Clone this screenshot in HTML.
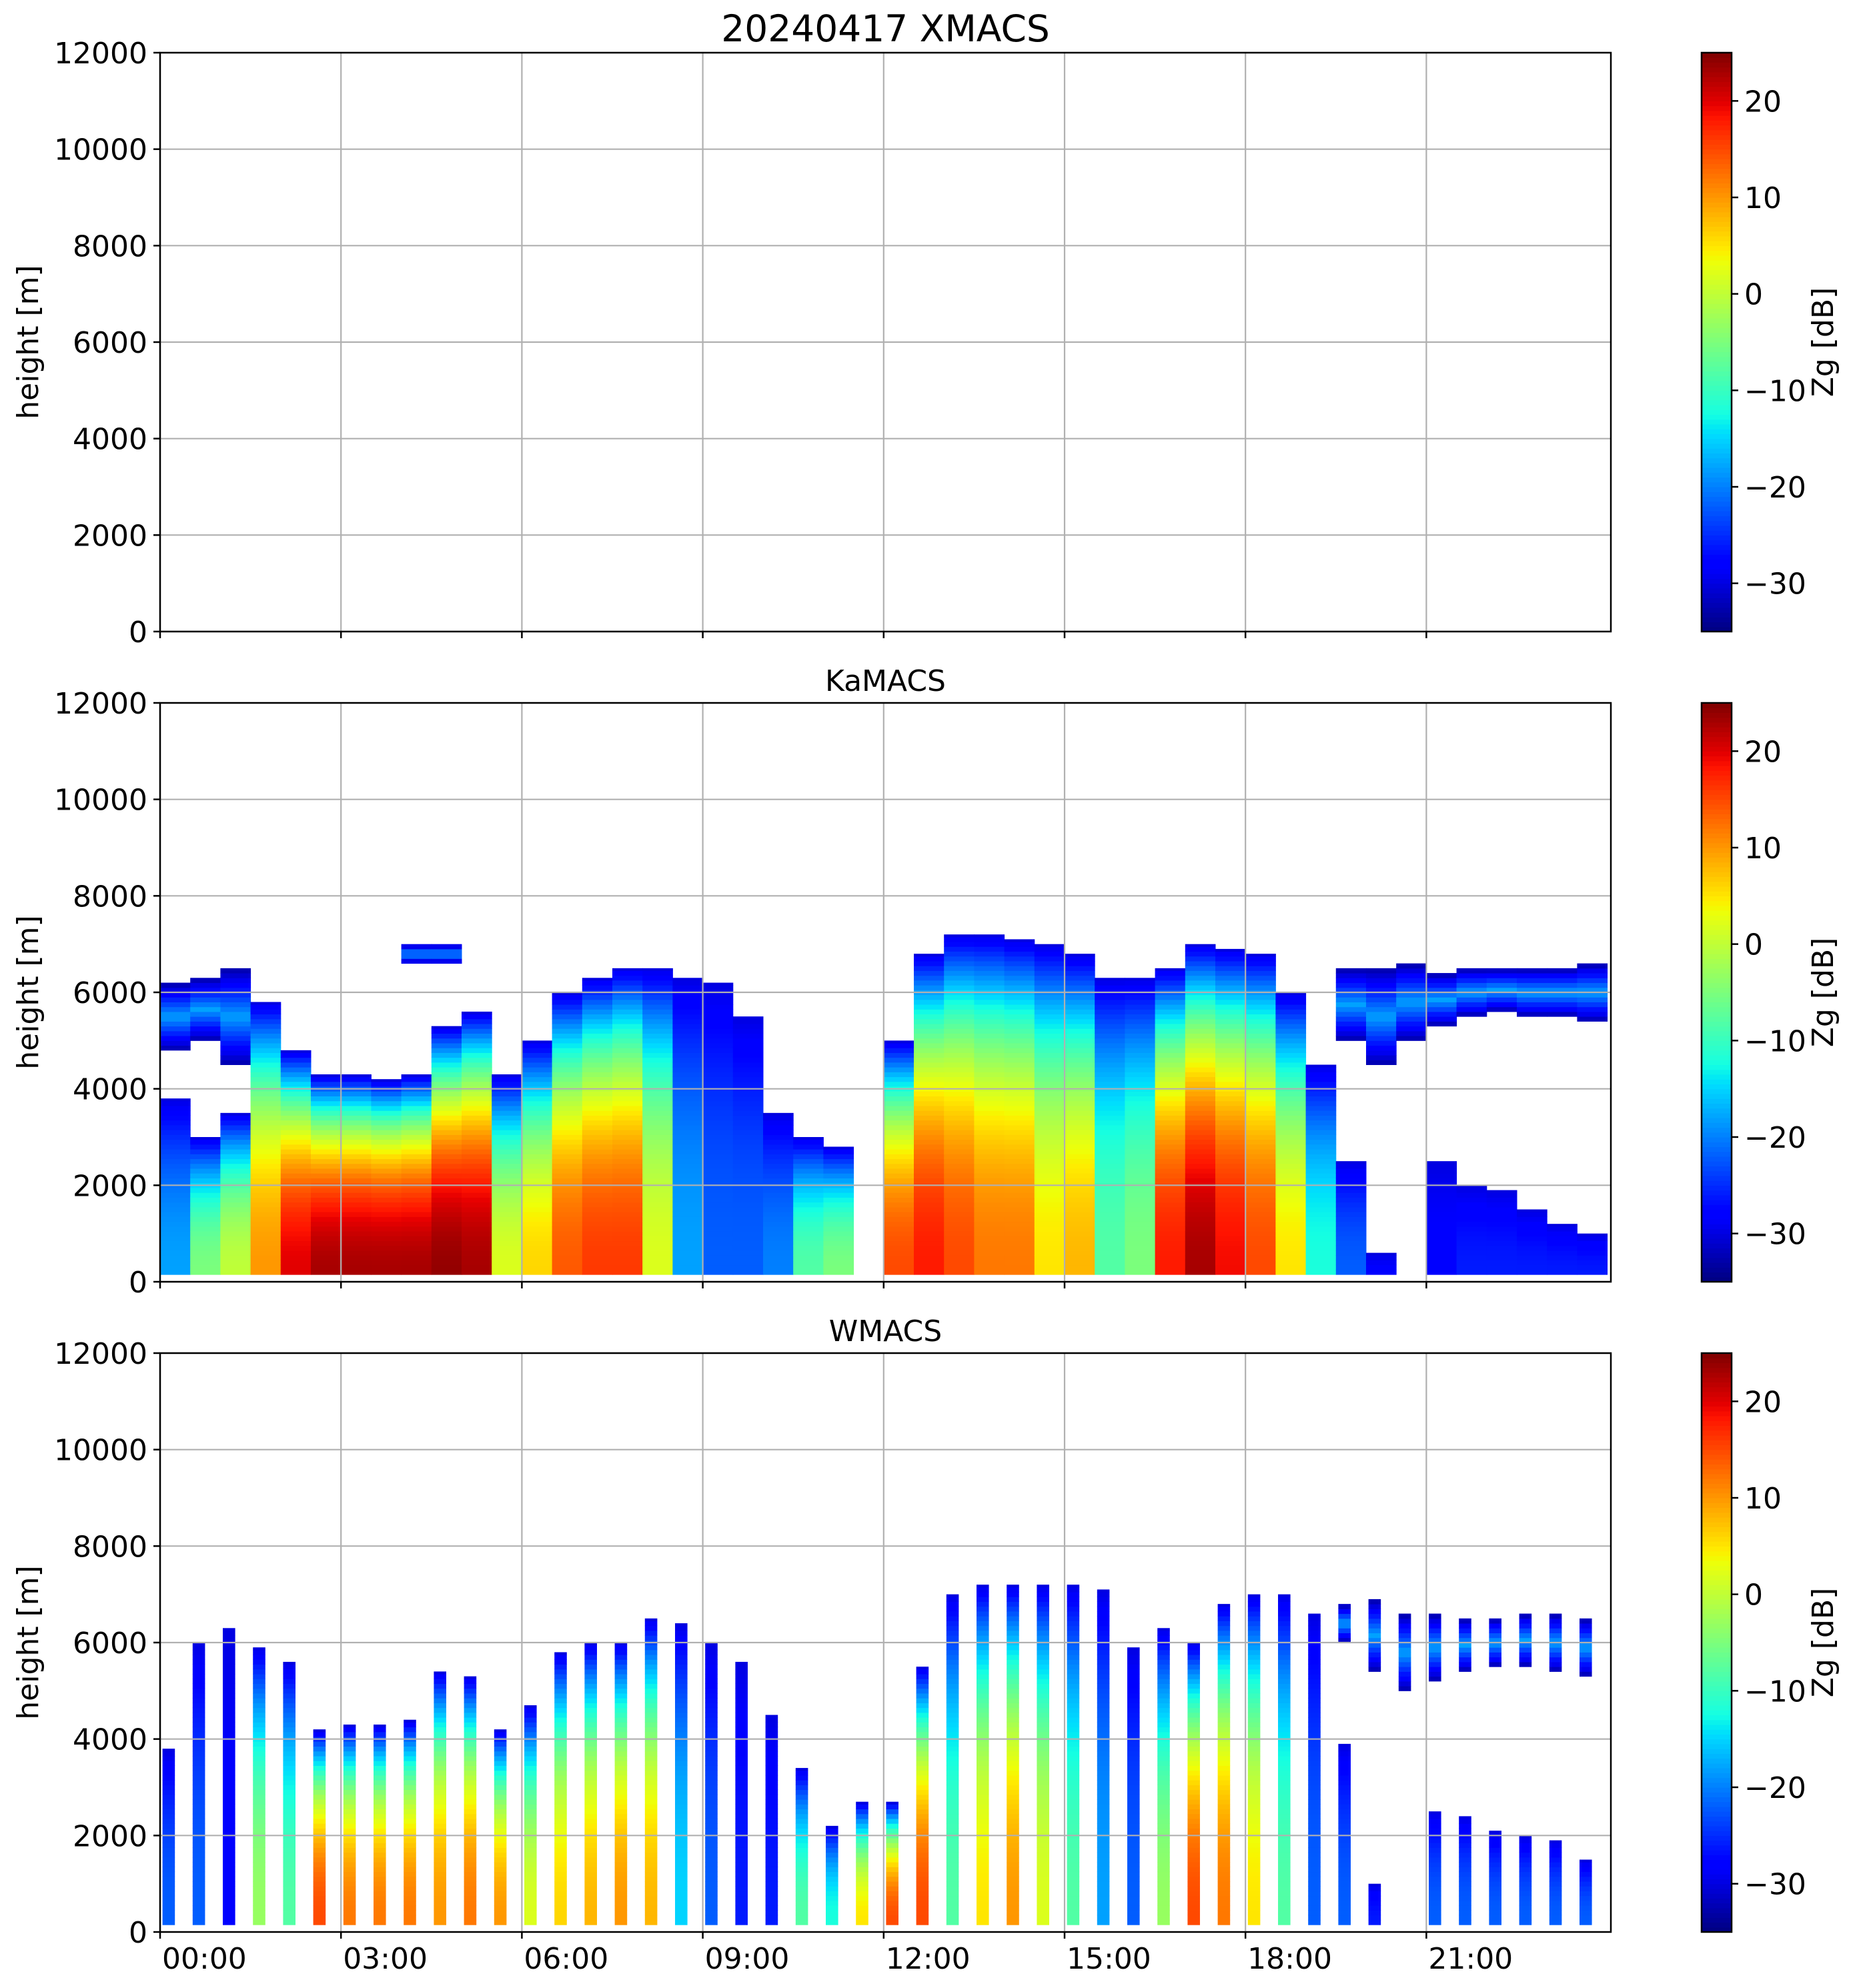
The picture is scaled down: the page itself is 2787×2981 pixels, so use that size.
<!DOCTYPE html>
<html><head><meta charset="utf-8"><style>
html,body{margin:0;padding:0;background:#fff;}
svg{display:block;font-family:"DejaVu Sans","Liberation Sans",sans-serif;}
</style></head><body>
<svg id="fig" width="2787" height="2981" viewBox="0 0 2787 2981" xmlns="http://www.w3.org/2000/svg"></svg>
<script>
// ---- data ----
const yTicks = [0,2000,4000,6000,8000,10000,12000];
const xTickHours = [0,3,6,9,12,15,18,21];
const xTickLabels = ["00:00","03:00","06:00","09:00","12:00","15:00","18:00","21:00"];
const cbTicks = [-30,-20,-10,0,10,20];
const panelTitles = ["20240417 XMACS","KaMACS","WMACS"];
// KaMACS, half-hour bins starting at 00:00
const kaStart = [0,0.5,1,1.5,2,2.5,3,3.5,4,4.5,5,5.5,6,6.5,7,7.5,8,8.5,9,9.5,10,10.5,11,11.5,12,12.5,13,13.5,14,14.5,15,15.5,16,16.5,17,17.5,18,18.5,19,19.5,20,20.5,21,21.5,22,22.5,23,23.5];
const kaTop = [3800,3000,3500,5800,4800,4300,4300,4200,4300,5300,5600,4300,5000,6000,6300,6500,6500,6300,6200,5500,3500,3000,2800,0,5000,6800,7200,7200,7100,7000,6800,6300,6300,6500,7000,6900,6800,6000,4500,2500,600,0,2500,2000,1900,1500,1200,1000];
const kaSfc = [-18,-5,0,10,20,23,23,23,23,24,23,2,6,14,16,16,2,-18,-22,-22,-20,-8,-5,0,15,18,15,12,12,5,8,-8,-5,18,23,19,15,5,-12,-22,-28,-30,-28,-26,-26,-26,-26,-26];
const kaL2Bot = [4800,5000,4500,0,0,0,0,0,6600,6600,0,0,0,0,0,0,0,0,0,0,0,0,0,0,0,0,0,0,0,0,0,0,0,0,0,0,0,0,0,5000,4500,5000,5300,5500,5600,5500,5500,5400];
const kaL2Top = [6200,6300,6500,0,0,0,0,0,7000,7000,0,0,0,0,0,0,0,0,0,0,0,0,0,0,0,0,0,0,0,0,0,0,0,0,0,0,0,0,0,6500,6500,6600,6400,6500,6500,6500,6500,6600];
// WMACS scan stripes
const wStart = [0.04,0.54,1.04,1.54,2.04,2.54,3.04,3.54,4.04,4.54,5.04,5.54,6.04,6.54,7.04,7.54,8.04,8.54,9.04,9.54,10.04,10.54,11.04,11.54,12.04,12.54,13.04,13.54,14.04,14.54,15.04,15.54,16.04,16.54,17.04,17.54,18.04,18.54,19.04,19.54,20.04,20.54,21.04,21.54,22.04,22.54,23.04,23.54];
const wTop = [3800,6000,6300,5900,5600,4200,4300,4300,4400,5400,5300,4200,4700,5800,6000,6000,6500,6400,6000,5600,4500,3400,2200,2700,2700,5500,7000,7200,7200,7200,7200,7100,5900,6300,6000,6800,7000,7000,6600,3900,1000,0,2500,2400,2100,2000,1900,1500];
const wSfc = [-22,-22,-28,-3,-8,15,12,12,12,10,12,10,2,6,8,10,8,-15,-22,-26,-26,-8,-12,5,15,15,-8,5,10,2,-8,-18,-22,-3,15,12,5,-8,-22,-22,-26,-26,-22,-22,-22,-22,-22,-22];
const wL2Bot = [0,0,0,0,0,0,0,0,0,0,0,0,0,0,0,0,0,0,0,0,0,0,0,0,0,0,0,0,0,0,0,0,0,0,0,0,0,0,0,6000,5400,5000,5200,5400,5500,5500,5400,5300];
const wL2Top = [0,0,0,0,0,0,0,0,0,0,0,0,0,0,0,0,0,0,0,0,0,0,0,0,0,0,0,0,0,0,0,0,0,0,0,0,0,0,0,6800,6900,6600,6600,6500,6500,6600,6600,6500];

// ---- layout ----
const NS="http://www.w3.org/2000/svg";
const svg=document.getElementById('fig');
const AX_L=240, AX_R=2415, PANEL_H=868, PANEL_TOPS=[79,1054,2029];
const T_MAX=24.06, H_MAX=12000, CB_L=2551, CB_R=2596, Z_MIN=-35, Z_MAX=25;
function xs(t){return AX_L+(AX_R-AX_L)*t/T_MAX;}
function ys(h,p){return PANEL_TOPS[p]+PANEL_H*(1-h/H_MAX);}
function zs(z,p){return PANEL_TOPS[p]+PANEL_H*(1-(z-Z_MIN)/(Z_MAX-Z_MIN));}
function interp(pts,v){for(let i=1;i<pts.length;i++){if(v<=pts[i][0]){const a=pts[i-1],b=pts[i];return a[1]+(b[1]-a[1])*(v-a[0])/(b[0]-a[0]);}}return pts[pts.length-1][1];}
function jet(z){let v=(z-Z_MIN)/(Z_MAX-Z_MIN);v=Math.max(0,Math.min(1,v));
 const r=interp([[0,0],[0.35,0],[0.66,1],[0.89,1],[1,0.5]],v);
 const g=interp([[0,0],[0.125,0],[0.375,1],[0.64,1],[0.91,0],[1,0]],v);
 const b=interp([[0,0.5],[0.11,1],[0.34,1],[0.65,0],[1,0]],v);
 return `rgb(${Math.round(r*255)},${Math.round(g*255)},${Math.round(b*255)})`;}
function el(tag,attrs,parent){const e=document.createElementNS(NS,tag);for(const k in attrs)e.setAttribute(k,attrs[k]);(parent||svg).appendChild(e);return e;}

const ROW=100;
function column(p,t0,t1,top,sfc,pw,l2b,l2t,g){
  const x0=xs(t0),x1=xs(t1);
  for(let h=150;h<top;h+=ROW){
    const f=Math.min(1,(h+ROW/2)/top);
    const z=sfc+(-30-sfc)*Math.pow(f,pw);
    const r=el('rect',{x:x0,y:ys(Math.min(h+ROW,top),p),width:x1-x0+0.5,height:ys(h,p)-ys(Math.min(h+ROW,top),p)+0.5,fill:jet(z)},g);
    
    
  }
  if(l2t>0){
    const mid=(l2b+l2t)/2, half=(l2t-l2b)/2;
    for(let h=l2b;h<l2t;h+=ROW){
      const d=Math.abs(h+ROW/2-mid)/half;
      const z=-18+(-33+18)*d;
      const r=el('rect',{x:x0,y:ys(Math.min(h+ROW,l2t),p),width:x1-x0+0.5,height:ys(h,p)-ys(Math.min(h+ROW,l2t),p)+0.5,fill:jet(z)},g);
      
      
    }
  }
}

for(let p=0;p<3;p++){
  const top=PANEL_TOPS[p], bot=top+PANEL_H;
  const g=el('g',{});
  
  
  const hm=el('g',{},g);
  
  
  if(p===1){for(let i=0;i<kaStart.length;i++){if(kaTop[i]>0||kaL2Top[i]>0)column(1,kaStart[i],kaStart[i]+0.5,kaTop[i],kaSfc[i],2.3,kaL2Bot[i],kaL2Top[i],hm);}}
  if(p===2){for(let i=0;i<wStart.length;i++){column(2,wStart[i],wStart[i]+0.2,wTop[i],wSfc[i],2.4,wL2Bot[i],wL2Top[i],hm);}}
  for(const h of yTicks){const l=el('line',{x1:AX_L,x2:AX_R,y1:ys(h,p),y2:ys(h,p),stroke:'#b0b0b0','stroke-width':2.2},g);
    }
  for(const t of xTickHours){const l=el('line',{x1:xs(t),x2:xs(t),y1:top,y2:bot,stroke:'#b0b0b0','stroke-width':2.2},g);
    }
  const fr=el('rect',{x:AX_L,y:top,width:AX_R-AX_L,height:PANEL_H,fill:'none',stroke:'#000','stroke-width':2.5},g);
  
  for(const h of yTicks){
    const tk=el('line',{x1:AX_L-10,x2:AX_L,y1:ys(h,p),y2:ys(h,p),stroke:'#000','stroke-width':2.5},g);
    
    const tx=el('text',{x:AX_L-19,y:ys(h,p)+16,'font-size':44,'text-anchor':'end'},g);tx.textContent=h;
    
  }
  xTickHours.forEach((t,i)=>{
    const tk=el('line',{x1:xs(t),x2:xs(t),y1:bot,y2:bot+10,stroke:'#000','stroke-width':2.5},g);
    
    if(p===2){const tx=el('text',{x:xs(t)+3,y:2952,'font-size':44},g);tx.textContent=xTickLabels[i];
      }
  });
  const yl=el('text',{x:0,y:0,'font-size':44,'text-anchor':'middle',transform:`translate(57,${top+PANEL_H/2}) rotate(-90)`},g);
  yl.textContent='height [m]';
  const tt=el('text',{x:(AX_L+AX_R)/2,y:p===0?62:top-18,'font-size':p===0?55:44,'text-anchor':'middle'},g);
  tt.textContent=panelTitles[p];
  const cb=el('g',{},g);
  
  for(let z=Z_MIN;z<Z_MAX;z+=0.5){el('rect',{x:CB_L,y:zs(z+0.5,p),width:CB_R-CB_L,height:zs(z,p)-zs(z+0.5,p)+0.6,fill:jet(z+0.25)},cb);}
  el('rect',{x:CB_L,y:top,width:CB_R-CB_L,height:PANEL_H,fill:'none',stroke:'#000','stroke-width':2.5},cb);
  for(const z of cbTicks){
    el('line',{x1:CB_R,x2:CB_R+10,y1:zs(z,p),y2:zs(z,p),stroke:'#000','stroke-width':2.5},cb);
    const tx=el('text',{x:CB_R+19,y:zs(z,p)+16,'font-size':44},cb);tx.textContent=(z<0?'\u2212':'')+Math.abs(z);
    
  }
  const cl=el('text',{x:0,y:0,'font-size':44,'text-anchor':'middle',transform:`translate(2748,${top+PANEL_H/2}) rotate(-90)`},cb);
  cl.textContent='Zg [dB]';
}
</script>
</body></html>
